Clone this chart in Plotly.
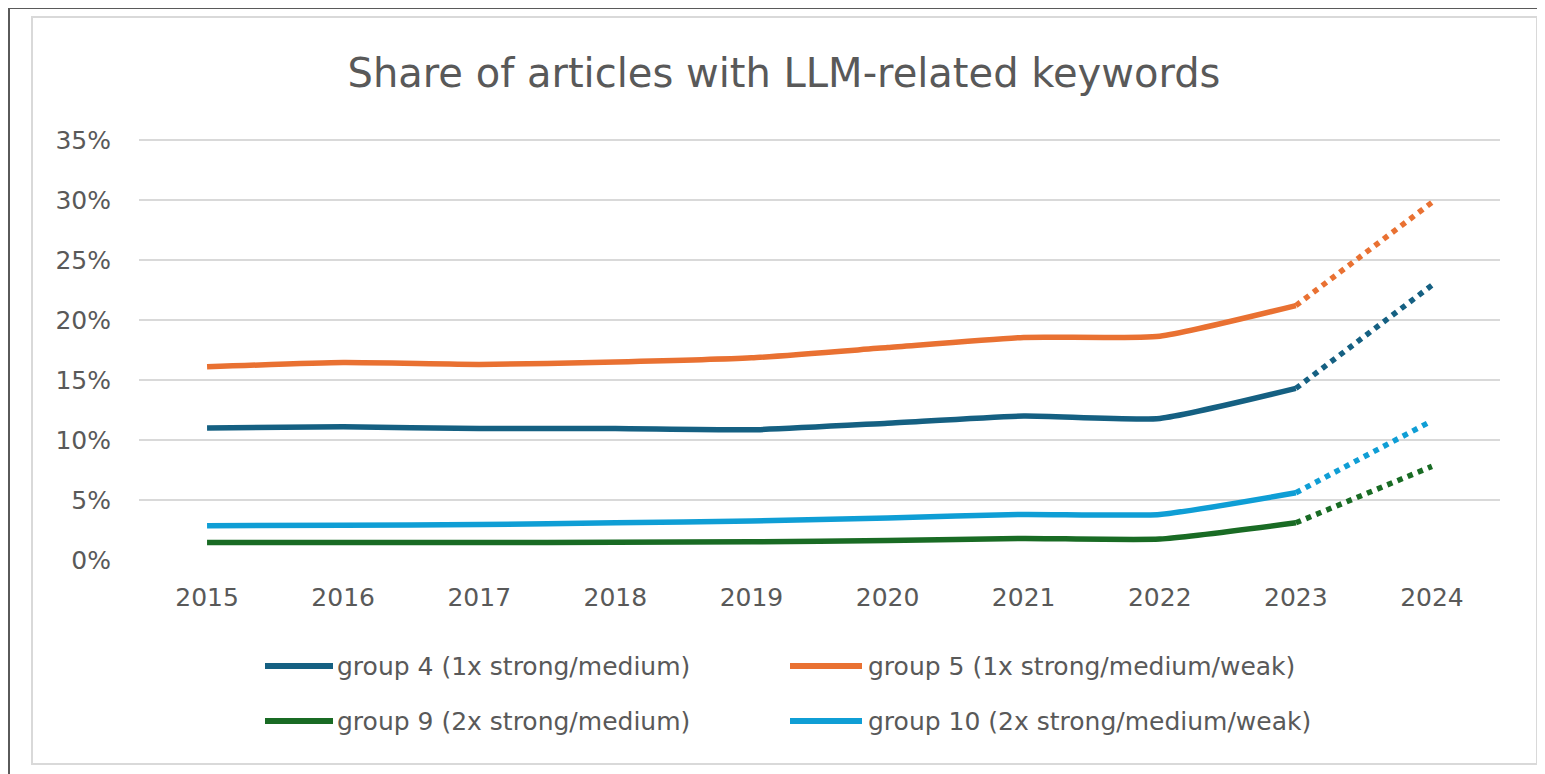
import plotly.graph_objects as go

years = ["2015", "2016", "2017", "2018", "2019", "2020", "2021", "2022", "2023", "2024"]
group4 = [11.0, 11.1, 10.95, 10.95, 10.85, 11.4, 12.0, 11.8, 14.3, 22.9]
group5 = [16.1, 16.45, 16.3, 16.5, 16.85, 17.7, 18.55, 18.65, 21.2, 29.8]
group9 = [1.45, 1.45, 1.45, 1.47, 1.52, 1.62, 1.8, 1.75, 3.1, 7.8]
group10 = [2.85, 2.9, 2.95, 3.1, 3.25, 3.5, 3.8, 3.8, 5.6, 11.6]

names = ["group 4 (1x strong/medium)", "group 5 (1x strong/medium/weak)",
         "group 9 (2x strong/medium)", "group 10 (2x strong/medium/weak)"]
colors = ["#156082", "#E97132", "#196B24", "#0F9ED5"]
series = [group4, group5, group9, group10]
y_ticks = [0, 5, 10, 15, 20, 25, 30, 35]
y_labels = ["0%", "5%", "10%", "15%", "20%", "25%", "30%", "35%"]

# page offset (body margin)
OX, OY = 8, 8
W, H = 1545 - OX, 774 - OY
# plot area in page pixel coords (top extended a bit so the 35% gridline is drawn)
L, R, T, B = 139, 1500, 137, 560
YMAX = 35.25
FONT = "DejaVu Sans"
GRAY = "#595959"

def px(x):
    return (x - L) / (R - L)

def py(y):
    return (B - y) / (B - T)

fig = go.Figure()
for vals, col, nm in zip(series, colors, names):
    fig.add_trace(go.Scatter(x=years[:9], y=vals[:9], mode="lines", name=nm,
                             line=dict(color=col, width=5.5, shape="spline", smoothing=0.5),
                             showlegend=False, hoverinfo="x+y+name"))
    fig.add_trace(go.Scatter(x=years[8:], y=vals[8:], mode="lines", name=nm,
                             line=dict(color=col, width=5.5, dash="dot"),
                             showlegend=False, hoverinfo="x+y+name"))

shapes = []
annotations = []
# frames
shapes.append(dict(type="rect", xref="paper", yref="paper",
                   x0=px(9), x1=px(1570), y0=py(8), y1=py(800),
                   line=dict(color="#5a5a5a", width=2), layer="below"))
shapes.append(dict(type="rect", xref="paper", yref="paper",
                   x0=px(32), x1=px(1537), y0=py(17), y1=py(764),
                   line=dict(color="#d9d9d9", width=2), layer="below"))

# manual legend
legend_pos = [(265, 333, 335, 666), (790, 862, 866, 666),
              (265, 333, 335, 721), (790, 862, 866, 721)]
for (lx0, lx1, tx, ly), col, nm in zip(legend_pos, colors, names):
    shapes.append(dict(type="line", xref="paper", yref="paper",
                       x0=px(lx0), x1=px(lx1), y0=py(ly), y1=py(ly),
                       line=dict(color=col, width=6)))
    annotations.append(dict(text=nm, xref="paper", yref="paper",
                            x=px(tx), y=py(ly), xanchor="left", yanchor="middle",
                            showarrow=False, font=dict(family=FONT, size=25, color=GRAY)))

fig.update_layout(
    width=W, height=H,
    margin=dict(l=L - OX, r=W - (R - OX), t=T - OY, b=H - (B - OY), pad=0),
    paper_bgcolor="white", plot_bgcolor="white",
    title=dict(text="Share of articles with LLM-related keywords",
               x=(784 - OX) / W, xref="container", xanchor="center",
               y=1 - (73 - OY) / H, yref="container", yanchor="middle",
               font=dict(family=FONT, size=40, color=GRAY)),
    shapes=shapes, annotations=annotations,
    showlegend=False,
    xaxis=dict(type="category", range=[-0.5, 9.5], showgrid=False, zeroline=False,
               showline=False, ticks="", tickfont=dict(family=FONT, size=25, color=GRAY),
               ticklabelstandoff=20),
    yaxis=dict(range=[0, YMAX], tickmode="array", tickvals=y_ticks, ticktext=y_labels,
               showgrid=True, gridcolor="#d9d9d9", gridwidth=1.5, zeroline=False,
               showline=False, ticks="", tickfont=dict(family=FONT, size=25, color=GRAY),
               ticklabelstandoff=27),
)

fig.write_html("out.html")
